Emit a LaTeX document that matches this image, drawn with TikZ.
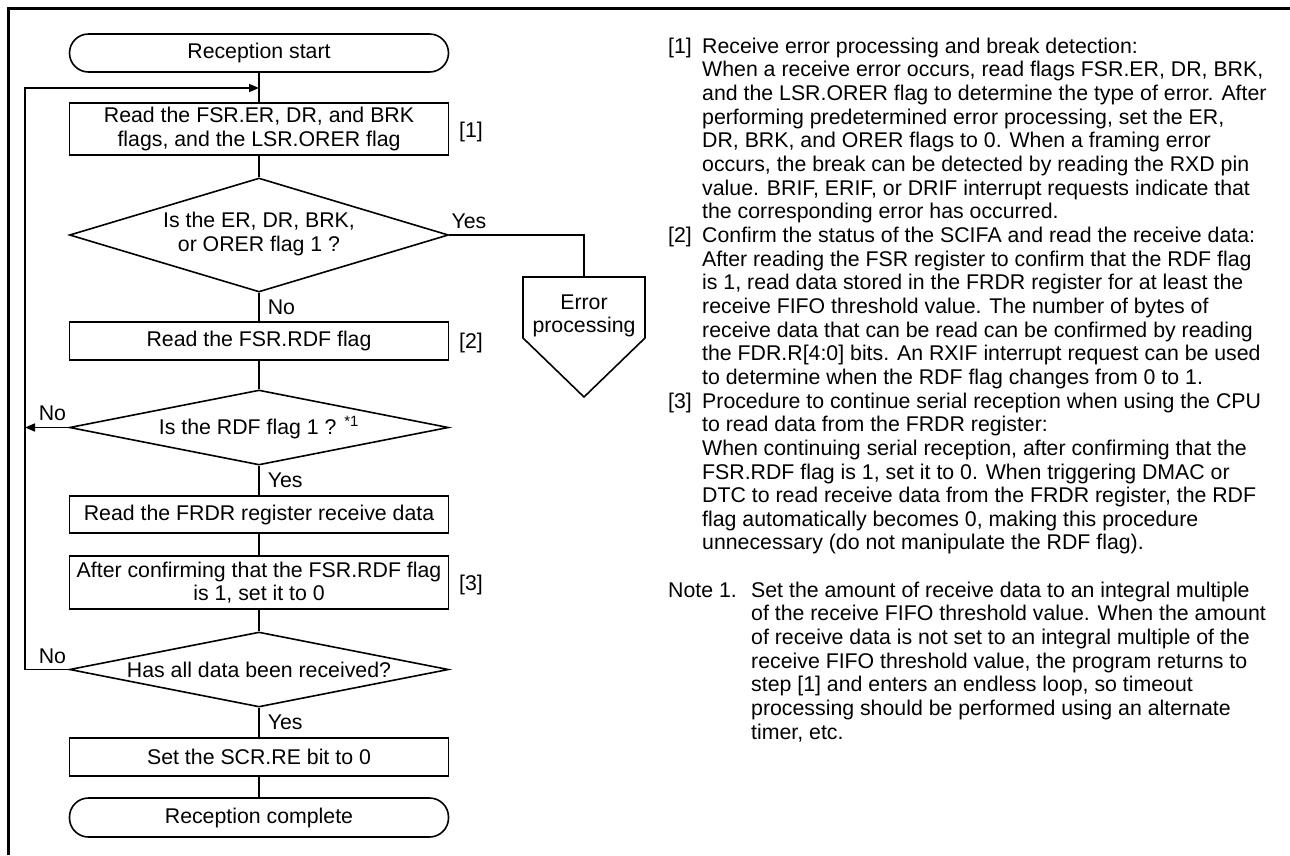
\documentclass[tikz,border=0pt]{standalone}
\usepackage{fontspec}
\setmainfont{Liberation Sans}
\usetikzlibrary{shapes.geometric,arrows.meta,calc}
\begin{document}
\begin{tikzpicture}[x=1pt,y=-1pt,
  every node/.style={font=\fontsize{21.3}{23.65}\selectfont},
  ln/.style={line width=1.6pt},
  box/.style={draw, line width=1.6pt, minimum width=379pt, inner sep=0pt, align=center},
  term/.style={box, rounded corners=19pt},
  dec/.style={draw, diamond, line width=1.6pt, minimum width=379pt, inner sep=0pt, aspect=1},
  lbl/.style={inner sep=0pt},
  arr/.style={ln, -{Triangle[length=10pt,width=8pt]}},
  frame/.style={line width=3pt}
]
\useasboundingbox (0,0) rectangle (1290,855);
% frame
\draw[frame] (8.5,855) -- (8.5,8.5) -- (1290,8.5);

% flowchart nodes
\node[term, minimum height=38pt] (start) at (259,53) {Reception start};
\node[box, minimum height=52pt] (b1) at (259,129) {Read the FSR.ER, DR, and BRK\\flags, and the LSR.ORER flag};
\node[dec, minimum height=114pt] (d1) at (259,235) {\makebox[0pt]{\begin{tabular}{@{}c@{}}Is the ER, DR, BRK,\\or ORER flag 1 ?\end{tabular}}};
\node[box, minimum height=38pt] (b2) at (259,341) {Read the FSR.RDF flag};
\node[dec, minimum height=75pt] (d2) at (259,427.5) {\makebox[0pt]{Is the RDF flag 1 ? \textsuperscript{*1}}};
\node[box, minimum height=37pt] (b3) at (259,514.5) {Read the FRDR register receive data};
\node[box, minimum height=53pt] (b4) at (259,582.5) {After confirming that the FSR.RDF flag\\is 1, set it to 0};
\node[dec, minimum height=75pt] (d3) at (259,669.5) {\makebox[0pt]{Has all data been received?}};
\node[box, minimum height=38pt] (b5) at (259,757) {Set the SCR.RE bit to 0};
\node[term, minimum height=39pt] (end) at (259,817.5) {Reception complete};

% step labels
\node[lbl, anchor=base west] (s1) at (459,137.5) {[1]};
\node[lbl, anchor=base west] (s2) at (459,348) {[2]};
\node[lbl, anchor=base west] (s3) at (459,590.5) {[3]};

% error processing
\node[lbl, align=center] (err) at (584,316) {Error\\processing};
\draw[ln] (523,277) -- (645,277) -- (645,338) -- (584,397) -- (523,338) -- cycle;
\coordinate (errtop) at (584,277);
\coordinate (loopL) at (25,88);
\coordinate (j1) at (259,88);

% connectors
\draw[ln] (start) -- (b1);
\draw[ln] (b1) -- (d1);
\draw[ln] (d1) -- node[lbl, anchor=west, xshift=8pt] (no1) {No} (b2);
\draw[ln] (b2) -- (d2);
\draw[ln] (d2) -- node[lbl, anchor=west, xshift=8pt] (yes2) {Yes} (b3);
\draw[ln] (b3) -- (b4);
\draw[ln] (b4) -- (d3);
\draw[ln] (d3) -- node[lbl, anchor=west, xshift=8pt] (yes3) {Yes} (b5);
\draw[ln] (b5) -- (end);
\draw[ln] (d1.east) -| (errtop);
\node[lbl, anchor=west] (yes1) at ($(d1.east)+(2,-14)$) {Yes};
\draw[arr] (d2.west) -- (d2.west -| loopL);
\node[lbl, anchor=east] (no2) at ($(d2.west)+(-2.5,-14.5)$) {No};
\draw[arr] (d3.west) -| (loopL) -- (j1);
\node[lbl, anchor=east] (no3) at ($(d3.west)+(-2.5,-13.5)$) {No};

% explanatory text
\node[lbl, anchor=base west] (notes) at (668,53.3) {\begin{tabular}[t]{@{}l@{}l@{}}
\makebox[34pt][l]{[1]} & Receive error processing and break detection:\\
 & When a receive error occurs, read flags FSR.ER, DR, BRK,\\
 & and the LSR.ORER flag to determine the type of error. After\\
 & performing predetermined error processing, set the ER,\\
 & DR, BRK, and ORER flags to 0. When a framing error\\
 & occurs, the break can be detected by reading the RXD pin\\
 & value. BRIF, ERIF, or DRIF interrupt requests indicate that\\
 & the corresponding error has occurred.\\
{[2]} & Confirm the status of the SCIFA and read the receive data:\\
 & After reading the FSR register to confirm that the RDF flag\\
 & is 1, read data stored in the FRDR register for at least the\\
 & receive FIFO threshold value. The number of bytes of\\
 & receive data that can be read can be confirmed by reading\\
 & the FDR.R[4:0] bits. An RXIF interrupt request can be used\\
 & to determine when the RDF flag changes from 0 to 1.\\
{[3]} & Procedure to continue serial reception when using the CPU\\
 & to read data from the FRDR register:\\
 & When continuing serial reception, after confirming that the\\
 & FSR.RDF flag is 1, set it to 0. When triggering DMAC or\\
 & DTC to read receive data from the FRDR register, the RDF\\
 & flag automatically becomes 0, making this procedure\\
 & unnecessary (do not manipulate the RDF flag).
\end{tabular}};
\node[lbl, anchor=base west] (note) at (668,597.3) {\begin{tabular}[t]{@{}l@{}l@{}}
\makebox[83pt][l]{Note 1.} & Set the amount of receive data to an integral multiple\\
 & of the receive FIFO threshold value. When the amount\\
 & of receive data is not set to an integral multiple of the\\
 & receive FIFO threshold value, the program returns to\\
 & step [1] and enters an endless loop, so timeout\\
 & processing should be performed using an alternate\\
 & timer, etc.
\end{tabular}};
\end{tikzpicture}
\end{document}
